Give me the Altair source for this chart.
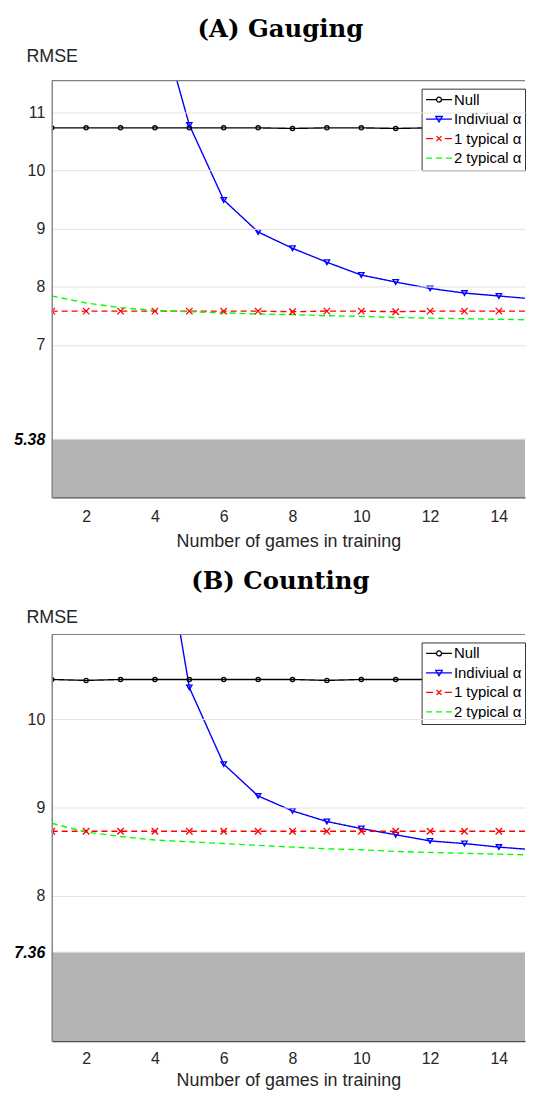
import altair as alt
import pandas as pd

# ---------------- data ----------------
games = list(range(1, 16))
indiv_games = list(range(4, 16))
x_ticks = [2, 4, 6, 8, 10, 12, 14]
x_domain = [1, 14.76]

series_names = ["Null", "Indiviual α", "1 typical α", "2 typical α"]
series_colors = ["#000000", "#0000ff", "#ff0000", "#00ff00"]

gauging_null = [10.73, 10.73, 10.73, 10.73, 10.73, 10.73, 10.73, 10.72,
                10.73, 10.73, 10.72, 10.73, 10.73, 10.73, 10.73]
gauging_indiv = [12.89, 10.78, 9.49, 8.94, 8.66, 8.42, 8.20, 8.08,
                 7.97, 7.89, 7.84, 7.79]
gauging_one = [7.58, 7.58, 7.58, 7.58, 7.58, 7.58, 7.58, 7.57,
               7.58, 7.58, 7.57, 7.58, 7.58, 7.58, 7.58]
gauging_two = [7.84, 7.72, 7.64, 7.59, 7.57, 7.55, 7.53, 7.52,
               7.50, 7.49, 7.47, 7.46, 7.45, 7.44, 7.43]
gauging_floor = 5.38
gauging_ylim = [4.38, 11.54]
gauging_yticks = [5.38, 7, 8, 9, 10, 11]

counting_null = [10.45, 10.44, 10.45, 10.45, 10.45, 10.45, 10.45, 10.45,
                 10.44, 10.45, 10.45, 10.45, 10.45, 10.45, 10.45]
counting_indiv = [12.67, 10.36, 9.49, 9.13, 8.96, 8.84, 8.76, 8.69,
                  8.62, 8.59, 8.55, 8.52]
counting_one = [8.73, 8.73, 8.73, 8.73, 8.73, 8.73, 8.73, 8.73,
                8.73, 8.73, 8.73, 8.73, 8.73, 8.73, 8.73]
counting_two = [8.82, 8.72, 8.67, 8.63, 8.61, 8.59, 8.57, 8.55,
                8.53, 8.52, 8.50, 8.49, 8.48, 8.47, 8.46]
counting_floor = 7.36
counting_ylim = [6.35, 10.96]
counting_yticks = [7.36, 8, 9, 10]

# ---------------- styling ----------------
SANS = "Liberation Sans"
marker_shapes = ["circle", "triangle-down", "M-1,-1L1,1M-1,1L1,-1"]
marker_sizes = [18, 42, 25]
marker_strokes = [1.3, 1.3, 1.8]
dashes = [[1, 0], [1, 0], [6, 4], [6, 4]]
legend_paths = [
    "M-1,0H0.62M1.38,0H3M0.62,0A0.38,0.38,0,1,0,1.38,0A0.38,0.38,0,1,0,0.62,0",
    "M-1,0H3M0.5,-0.4H1.5L1,0.45Z",
    "M-1,0H0.1M1.9,0H3M0.62,-0.38L1.38,0.38M0.62,0.38L1.38,-0.38",
    "M-1,0H-0.08M0.54,0H1.46M2.08,0H3",
]


def panel(title, null_v, indiv_v, one_v, two_v, floor, ylim, yticks,
          plot_h, title_offset, rmse_y, label_pad, title_pad):
    rows = []
    for g, v in zip(games, null_v):
        rows.append({"games": g, "rmse": v, "series": series_names[0]})
    for g, v in zip(indiv_games, indiv_v):
        rows.append({"games": g, "rmse": v, "series": series_names[1]})
    for g, v in zip(games, one_v):
        rows.append({"games": g, "rmse": v, "series": series_names[2]})
    for g, v in zip(games, two_v):
        rows.append({"games": g, "rmse": v, "series": series_names[3]})
    df = pd.DataFrame(rows)
    marker_df = df[df["series"] != series_names[3]]

    band = pd.DataFrame({"x0": [x_domain[0]], "x1": [x_domain[1]],
                         "y0": [ylim[0]], "y1": [floor]})
    top = pd.DataFrame({"x0": [x_domain[0]], "x1": [x_domain[1]],
                        "y": [ylim[1]]})

    xs = alt.Scale(domain=x_domain, nice=False, zero=False)
    ys = alt.Scale(domain=ylim, nice=False, zero=False)
    cond = f"datum.value == {floor}"
    xaxis = alt.Axis(values=x_ticks, title="Number of games in training",
                     grid=False, ticks=False, labelFont=SANS, labelFontSize=16,
                     labelColor="#262626", labelPadding=label_pad,
                     titleFont=SANS, titleFontSize=18,
                     titleFontWeight="normal", titleColor="#262626",
                     titlePadding=title_pad, domainColor="#4d4d4d",
                     domainWidth=1.2, zindex=1)
    yaxis = alt.Axis(values=yticks, format=".4~g", title="RMSE", grid=True,
                     gridColor="#e3e3e3", gridWidth=1, ticks=False,
                     labelFont=SANS, labelFontSize=16, labelPadding=7,
                     labelColor={"condition": {"test": cond, "value": "#000000"},
                                 "value": "#262626"},
                     labelFontWeight={"condition": {"test": cond, "value": "bold"},
                                      "value": "normal"},
                     labelFontStyle={"condition": {"test": cond, "value": "italic"},
                                     "value": "normal"},
                     titleFont=SANS, titleFontSize=18, titleFontWeight="normal",
                     titleColor="#262626", titleAngle=0, titleAlign="left",
                     titleBaseline="alphabetic", titleX=-26, titleY=rmse_y,
                     domainColor="#8a8a8a", domainWidth=1.5, zindex=1)

    def X(f):
        return alt.X(f, type="quantitative", scale=xs, axis=xaxis)

    def Y(f):
        return alt.Y(f, type="quantitative", scale=ys, axis=yaxis)

    rect = alt.Chart(band).mark_rect(color="#b3b3b3").encode(
        x=X("x0"), x2="x1", y=Y("y0"), y2="y1")
    border = alt.Chart(top).mark_rule(color="#808080", strokeWidth=1.2).encode(
        x=X("x0"), x2="x1", y=Y("y"))

    lines = alt.Chart(df).mark_line(clip=True, strokeWidth=1.4).encode(
        x=X("games"), y=Y("rmse"),
        color=alt.Color("series:N", scale=alt.Scale(domain=series_names,
                                                    range=series_colors),
                        legend=None),
        strokeDash=alt.StrokeDash("series:N",
                                  scale=alt.Scale(domain=series_names,
                                                  range=dashes),
                                  legend=None),
    )
    points = alt.Chart(marker_df).mark_point(
        clip=True, filled=False, opacity=1).encode(
        x=X("games"), y=Y("rmse"),
        color=alt.Color("series:N", scale=alt.Scale(domain=series_names[:3],
                                                    range=series_colors[:3]),
                        legend=None),
        shape=alt.Shape("series:N", scale=alt.Scale(domain=series_names[:3],
                                                    range=marker_shapes),
                        legend=None),
        size=alt.Size("series:N", scale=alt.Scale(domain=series_names[:3],
                                                  range=marker_sizes),
                      legend=None),
        strokeWidth=alt.StrokeWidth("series:N",
                                    scale=alt.Scale(domain=series_names[:3],
                                                    range=marker_strokes),
                                    legend=None),
    )
    leg = alt.Legend(title=None, orient="none", legendX=372, legendY=8,
                     fillColor="white", strokeColor="#333333", padding=3.5,
                     labelFont=SANS, labelFontSize=15, labelColor="#000000",
                     labelOffset=14, rowPadding=3.6, symbolSize=169,
                     symbolStrokeWidth=1.3, labelLimit=300)
    legend_layer = alt.Chart(df).mark_point(
        clip=True, filled=False, opacity=0, size=169, strokeWidth=1.3).encode(
        x=X("games"), y=Y("rmse"),
        color=alt.Color("series:N", scale=alt.Scale(domain=series_names,
                                                    range=series_colors),
                        legend=leg),
        shape=alt.Shape("series:N", scale=alt.Scale(domain=series_names,
                                                    range=legend_paths),
                        legend=leg),
    )
    return alt.layer(rect, lines, points, border, legend_layer).resolve_scale(
        color="independent", shape="independent", size="independent",
        strokeDash="independent", strokeWidth="independent",
    ).properties(
        width=476, height=plot_h,
        title=alt.TitleParams(title, font="DejaVu Serif", fontSize=24.5,
                              fontWeight="bold", color="#000000",
                              anchor="middle", offset=title_offset, dx=-8),
    )


chart_a = panel("(A) Gauging", gauging_null, gauging_indiv, gauging_one,
                gauging_two, gauging_floor, gauging_ylim, gauging_yticks,
                419, 5, -19, 11, 8)
chart_b = panel("(B) Counting", counting_null, counting_indiv, counting_one,
                counting_two, counting_floor, counting_ylim, counting_yticks,
                409, 14, -12, 9, 6)

chart = alt.vconcat(chart_a, chart_b, spacing=19).properties(
    padding={"left": 5, "top": 6, "right": 0, "bottom": 0},
).configure_view(stroke=None)

chart.save("out.html", embed_options={"renderer": "svg", "actions": False})
